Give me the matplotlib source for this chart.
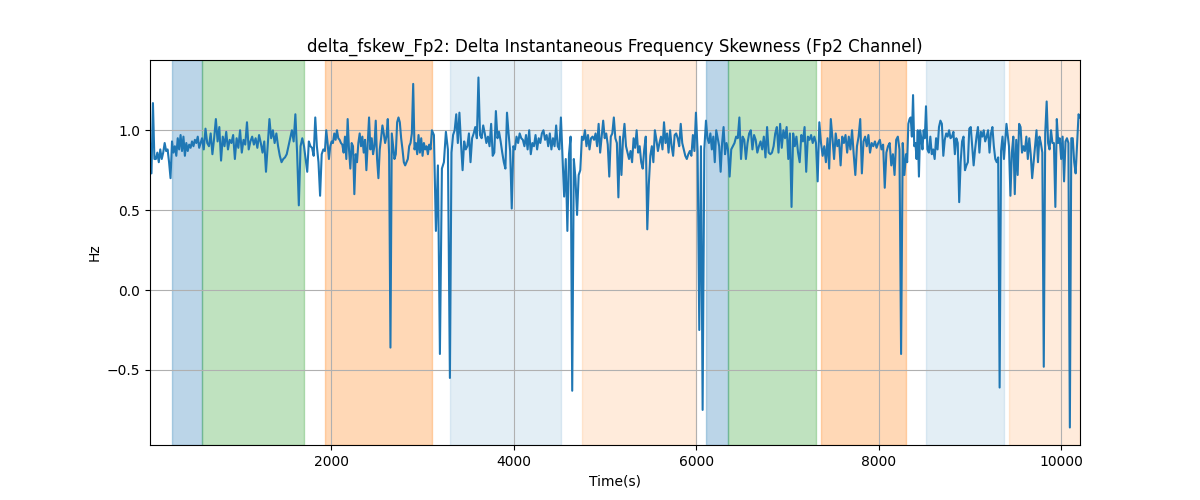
import matplotlib
matplotlib.use("Agg")
import matplotlib.pyplot as plt
import numpy as np

# segment boundaries (seconds)
seg_edges = [17, 258, 587, 1704, 1933, 3105, 3302, 4518, 4748, 5997,
             6107, 6348, 7312, 7367, 8298, 8517, 9371, 9426, 10204]

# values per segment
seg_vals = [
    [0.92, 0.73, 1.17, 0.82, 0.82, 0.86, 0.80, 0.88, 0.82, 0.86, 0.92, 0.87, 0.88, 0.80, 0.70],
    [0.93, 0.86, 0.90, 0.84, 0.95, 0.88, 0.97, 0.87, 0.96, 0.84, 0.92, 0.87, 0.91, 0.89, 0.93,
     0.90, 0.94, 0.92, 0.96, 0.89, 0.92],
    [0.95, 0.88, 1.01, 0.92, 0.90, 0.98, 0.85, 0.95, 1.07, 0.93, 1.02, 0.81, 0.96, 0.90, 0.99,
     0.88, 0.94, 0.92, 0.97, 0.82, 0.95, 0.89, 1.00, 0.86, 0.94, 0.91, 1.05, 0.88, 0.93, 0.96,
     0.91, 0.95, 0.89, 0.97, 0.92, 0.86, 0.93, 0.74, 0.90, 1.07, 0.95, 1.00, 0.92, 0.98, 0.90,
     0.84, 0.80, 0.82, 0.83, 0.85, 0.90, 0.95, 1.00, 0.93, 1.10, 0.86, 0.53, 0.90, 0.95],
    [0.90, 0.82, 0.74, 0.93, 0.90, 0.89, 0.84, 1.08, 0.90, 0.80, 0.59, 0.85, 0.88],
    [0.87, 1.00, 0.92, 0.82, 0.90, 0.93, 0.92, 0.98, 0.94, 1.00, 0.95, 0.94, 0.92, 0.91, 0.86,
     0.96, 0.82, 1.07, 0.88, 0.76, 0.92, 0.90, 0.60, 0.85, 0.80, 0.92, 0.98, 0.90, 0.96, 0.86,
     0.94, 0.75, 0.92, 1.08, 0.88, 0.95, 0.85, 0.90, 1.06, 0.82, 0.70, 0.88, 0.95, 1.03, 0.98,
     0.92, 0.96, 1.07, 0.85, -0.36, 0.98, 0.90, 0.82, 0.85, 1.05, 1.08, 1.05, 0.95, 0.88, 0.80,
     0.78, 0.80, 0.82, 0.90, 0.92, 0.98, 1.29, 0.88, 0.92, 0.85, 0.97, 0.86, 0.95, 0.84, 0.92,
     0.88, 0.90, 0.85, 0.91, 0.88],
    [1.00, 0.97, 0.37, 0.78, -0.40, 0.76, 0.80, 0.99, 0.88],
    [-0.55, 0.86, 0.97, 1.00, 1.10, 0.92,
     1.11, 0.92, 0.75, 0.93, 0.88, 0.90, 0.98, 0.80, 0.95, 0.98, 1.02, 0.95,
     1.33,
     0.97, 0.95, 1.03, 0.98, 0.92, 0.96, 0.90, 1.04, 0.84, 0.86, 1.12, 0.95, 0.99, 0.93, 0.86,
     0.80, 0.76, 1.11, 0.98, 0.87,
     0.51,
     0.90, 0.88, 0.96, 0.92, 0.98, 0.95, 0.94, 0.90, 0.97, 0.88, 1.00, 0.85, 0.92, 0.90, 0.97,
     0.88, 0.95, 0.92, 0.98, 1.00, 0.94, 0.97, 0.90, 0.98, 0.88, 0.95, 0.90, 1.03, 0.90, 0.88],
    [1.08, 0.84, 0.585, 0.82, 0.37, 0.85, 0.96, -0.63, 0.82, 0.70, 0.47, 0.72, 0.75],
    [0.96, 0.94, 1.00, 0.90, 0.97, 0.88, 0.95, 0.96, 0.94, 0.98, 0.90, 1.04, 0.86, 0.96, 1.06,
     0.95, 0.98, 0.91, 0.71, 0.96, 0.98, 1.08, 0.95, 0.92, 0.58, 0.96, 0.72, 0.94, 1.04, 0.90,
     0.86, 0.82, 0.87, 0.80, 0.95, 0.89, 1.00, 0.86, 0.90, 0.80, 0.76, 0.88, 0.96, 0.38, 0.66,
     0.84, 0.90, 0.80, 1.00, 0.94, 0.87, 0.92, 0.96, 0.88, 1.05, 0.92, 0.98, 0.86, 1.00, 0.90,
     0.84, 0.97, 0.98, 0.95, 0.90, 1.04, 0.92, 0.88, 0.84, 0.82, 0.85, 0.87, 0.84, 0.97, 0.87],
    [1.11, 0.87, -0.25, 0.90, -0.75, 0.88],
    [1.06, 0.95, 0.92, 0.98, 0.88, 0.96, 0.80, 1.00, 0.95, 0.90, 0.74, 0.92, 1.02, 0.85, 0.92],
    [0.88, 0.71, 0.88, 0.90, 0.92, 0.96, 0.95, 1.08, 0.82, 0.96, 0.94, 0.82, 0.92, 0.98, 1.00,
     0.88, 0.97, 0.94, 0.86, 0.90, 0.93, 0.88, 0.96, 0.83, 1.02, 0.86, 0.85, 0.86, 0.90, 0.98,
     1.02, 0.86, 1.04, 0.89, 1.00, 0.95, 1.02, 0.82, 0.98, 0.52, 0.98, 0.90, 0.96, 0.86, 0.80,
     0.97, 0.93, 1.02, 0.74, 0.96, 0.94, 0.97, 0.92, 0.96],
    [0.92, 0.68, 1.05],
    [0.92, 0.84, 0.90, 0.80, 0.95, 0.76, 1.07, 0.95, 0.82, 0.98, 0.90, 0.94, 0.78, 0.96, 0.92,
     0.97, 0.86, 0.96, 0.88, 1.00, 0.85, 0.72, 0.90, 0.96, 1.07, 0.73, 0.93, 0.96, 0.90, 0.97,
     0.86, 0.92, 0.90, 0.93, 0.89, 0.92, 0.94, 0.88, 0.91, 0.64, 0.86, 0.90, 0.92, 0.78, 0.85,
     0.72, 0.94, 0.96, 0.88, -0.40, 0.92, 0.72],
    [0.85, 0.80, 1.04, 1.07, 1.08, 0.96, 1.22, 0.90, 0.92, 0.82, 1.00, 0.71, 1.00, 0.95, 0.88,
     1.00, 0.95],
    [1.15, 0.88, 0.86, 0.96, 0.85, 0.88, 0.82, 0.95, 0.88, 1.02, 1.06, 1.04, 0.84, 0.94, 0.98,
     0.96, 1.00, 0.95, 0.96, 0.99, 0.85, 0.95, 0.92, 0.55, 0.80, 0.93, 0.96, 0.75, 0.78, 0.80,
     1.01, 1.02, 0.90, 0.78, 0.88, 0.96, 1.02, 0.86, 0.99, 0.96, 1.00, 0.93, 0.96, 1.00, 0.86,
     0.98, 1.02, 0.90, 0.82, 0.80, 0.83, -0.61, 0.87, 0.96],
    [0.82, 1.04],
    [0.90, 0.59, 0.86, 0.96, 0.60, 0.94, 0.72, 1.04, 1.02, 0.86, 0.90, 0.87, 0.96, 0.82, 0.95,
     0.85, 0.70, 0.80, 0.90, 1.00, 0.80, 0.96, 0.92, 0.86, -0.48, 0.98, 1.18, 0.92, 0.88, 1.00,
     0.92, 0.92, 0.52, 1.07, 0.92, 0.95, 0.82, 0.96, 0.68, 0.93, 0.95, 0.92, -0.86, 0.95, 0.95,
     0.80, 0.73, 0.92, 1.10, 1.08],
]

# shaded phases: (start, end, colour, alpha)
span_starts = [258, 587, 1933, 3302, 4748, 6107, 6348, 7367, 8517, 9426]
span_ends = [587, 1704, 3105, 4518, 5997, 6348, 7312, 8298, 9371, 10204]
span_colors = ["tab:blue", "tab:green", "tab:orange", "tab:blue", "tab:orange",
               "tab:blue", "tab:green", "tab:orange", "tab:blue", "tab:orange"]
span_alphas = [0.3, 0.3, 0.3, 0.12, 0.15, 0.3, 0.3, 0.3, 0.12, 0.15]

# build the time axis segment by segment
times = []
values = []
n_seg = len(seg_vals)
for i, vals in enumerate(seg_vals):
    last = i == n_seg - 1
    t = np.linspace(seg_edges[i], seg_edges[i + 1], len(vals), endpoint=last)
    times.extend(t)
    values.extend(vals)
times = np.array(times)
values = np.array(values)

fig, ax = plt.subplots(figsize=(12, 5), dpi=100)

for s, e, c, a in zip(span_starts, span_ends, span_colors, span_alphas):
    ax.axvspan(s, e, color=c, alpha=a)

ax.plot(times, values, color="tab:blue", linewidth=1.5)
ax.set_xlim(times[0], times[-1])
ax.grid(True)
ax.set_title("delta_fskew_Fp2: Delta Instantaneous Frequency Skewness (Fp2 Channel)")
ax.set_xlabel("Time(s)")
ax.set_ylabel("Hz")

plt.savefig("out.png")
plt.close()
